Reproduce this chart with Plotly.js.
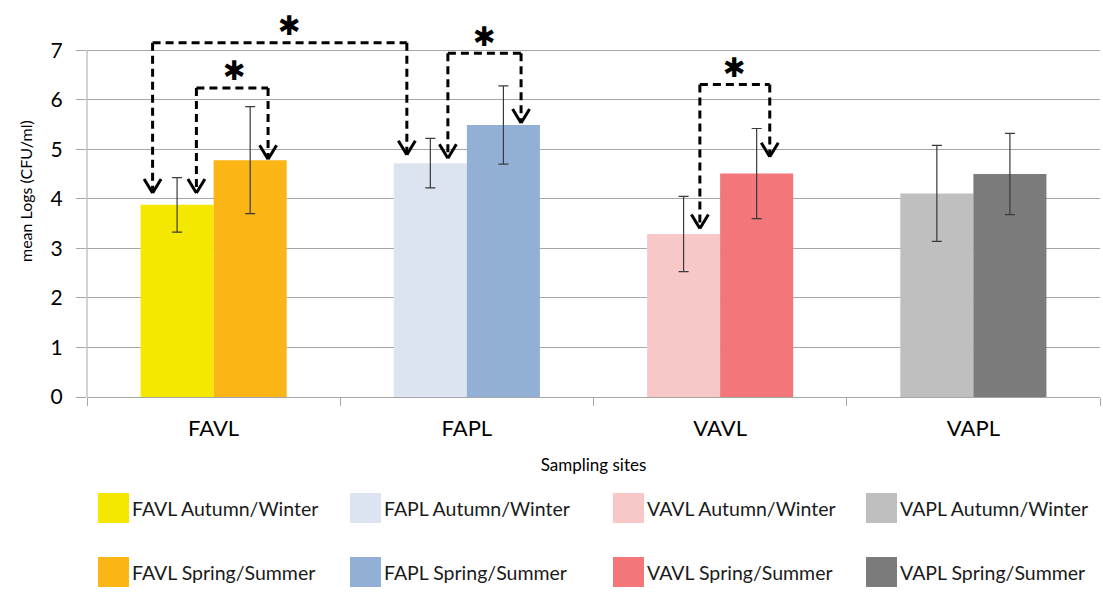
<!DOCTYPE html>
<html>
<head>
<meta charset="utf-8">
<script src="https://cdn.plot.ly/plotly-3.0.1.min.js"></script>
<style>html,body{margin:0;padding:0;background:#fff;}#chart{width:1103px;height:592px;}</style>
</head>
<body>
<div id="chart"></div>
<script>
// ---- data ----
const sites = ['FAVL', 'FAPL', 'VAVL', 'VAPL'];
const seasons = ['Autumn/Winter', 'Spring/Summer'];
const awMeans = [3.88, 4.72, 3.29, 4.11];
const awErr   = [0.55, 0.50, 0.76, 0.97];
const ssMeans = [4.78, 5.49, 4.51, 4.50];
const ssErr   = [1.08, 0.79, 0.91, 0.82];
const awColors = ['#F5E800', '#DCE3F1', '#F8C8C9', '#BFBFBF'];
const ssColors = ['#FBB515', '#92B0D6', '#F2767A', '#7A7B7A'];
const yTicks = [0, 1, 2, 3, 4, 5, 6, 7];
const yTitle = 'mean Logs (CFU/ml)';
const xTitle = 'Sampling sites';

// significance brackets (x in category-index units, y in data units)
const brackets = [
  {x0: -0.241, x1: 0.763, top: 7.15, tip0: 4.12, tip1: 4.89, starDx: 0.04},
  {x0: -0.068, x1: 0.215, top: 6.24, tip0: 4.12, tip1: 4.80, starDx: 0.008},
  {x0: 0.925,  x1: 1.214, top: 6.94, tip0: 4.82, tip1: 5.53, starDx: 0},
  {x0: 1.920,  x1: 2.196, top: 6.31, tip0: 3.40, tip1: 4.85, starDx: 0}
];

const FONT = 'Lato, "Open Sans", sans-serif';
const traces = [];
const seriesMeans = [awMeans, ssMeans];
const seriesErr = [awErr, ssErr];
const seriesColors = [awColors, ssColors];
for (let s = 0; s < 2; s++) {
  for (let i = 0; i < sites.length; i++) {
    traces.push({
      type: 'bar',
      name: sites[i] + ' ' + seasons[s],
      x: [sites[i]],
      y: [seriesMeans[s][i]],
      offsetgroup: 's' + s,
      marker: {color: seriesColors[s][i], line: {width: 0}},
      error_y: {type: 'data', array: [seriesErr[s][i]], visible: true, color: '#3a3a3a', thickness: 1.2, width: 5},
      showlegend: false,
      hoverinfo: 'x+y'
    });
  }
}

// plot geometry (pixels) used for paper conversions
const L = 87, R = 1100, T = 23, B = 397;
const W = R - L, H = B - T;
const yMax = 7.55;
const pxPerUnitY = H / yMax;
const pxPerCat = W / sites.length;

const shapes = [];
const annotations = [];
const dash = '8px,5px';
const ahX = 8.5 / pxPerCat, ahY = 14 / pxPerUnitY;
brackets.forEach(b => {
  const ln = {color: '#000', width: 3, dash: dash};
  shapes.push({type: 'line', xref: 'x', yref: 'y', x0: b.x0, x1: b.x1, y0: b.top, y1: b.top, line: ln});
  shapes.push({type: 'line', xref: 'x', yref: 'y', x0: b.x0, x1: b.x0, y0: b.top, y1: b.tip0 + 0.05, line: ln});
  shapes.push({type: 'line', xref: 'x', yref: 'y', x0: b.x1, x1: b.x1, y0: b.top, y1: b.tip1 + 0.05, line: ln});
  [[b.x0, b.tip0], [b.x1, b.tip1]].forEach(([x, y]) => {
    const sl = {color: '#000', width: 3};
    shapes.push({type: 'line', xref: 'x', yref: 'y', x0: x - ahX, y0: y + ahY, x1: x, y1: y, line: sl});
    shapes.push({type: 'line', xref: 'x', yref: 'y', x0: x + ahX, y0: y + ahY, x1: x, y1: y, line: sl});
  });
  annotations.push({
    xref: 'x', yref: 'y', x: (b.x0 + b.x1) / 2 + b.starDx, y: b.top, text: '✱', showarrow: false,
    yanchor: 'middle', yshift: 17, font: {family: '"DejaVu Sans", sans-serif', size: 27, color: '#000'}
  });
});

// left axis line (from 0 to 7)
shapes.push({type: 'line', xref: 'paper', yref: 'y', x0: 0, x1: 0, y0: 0, y1: yTicks[yTicks.length - 1],
  line: {color: '#a6a6a6', width: 1}});

// y-axis title (placed as in the original, centred on the 0-7 span offset upward)
annotations.push({xref: 'paper', yref: 'paper', x: (25 - L) / W, y: (B - 191) / H, textangle: -90,
  xanchor: 'center', yanchor: 'middle', showarrow: false, text: yTitle,
  font: {family: FONT, size: 16, color: '#000'}});

// custom legend: columns by site, rows by season
const colX = [98, 350, 613, 866];
const rowY = [493, 557];
const sw = 31, sh = 30;
for (let s = 0; s < 2; s++) {
  for (let i = 0; i < sites.length; i++) {
    const px0 = colX[i], py0 = rowY[s];
    shapes.push({type: 'rect', xref: 'paper', yref: 'paper',
      x0: (px0 - L) / W, x1: (px0 + sw - L) / W,
      y0: (B - py0 - sh) / H, y1: (B - py0) / H,
      fillcolor: seriesColors[s][i], line: {width: 0}});
    annotations.push({xref: 'paper', yref: 'paper', x: (px0 + sw + 1 - L) / W, y: (B - py0 - sh / 2) / H,
      xanchor: 'left', yanchor: 'middle', showarrow: false, text: sites[i] + ' ' + seasons[s],
      font: {family: FONT, size: 19.5, color: '#1a1a1a'}});
  }
}

const layout = {
  width: 1103, height: 592,
  margin: {l: L, r: 1103 - R, t: T, b: 592 - B},
  paper_bgcolor: '#fff', plot_bgcolor: '#fff',
  barmode: 'group', bargap: 0.423, bargroupgap: 0,
  showlegend: false,
  xaxis: {
    type: 'category', categoryorder: 'array', categoryarray: sites,
    range: [-0.5, sites.length - 0.5],
    showline: true, linecolor: '#a6a6a6', linewidth: 1,
    ticks: 'outside', tickson: 'boundaries', ticklen: 8, tickcolor: '#a6a6a6',
    ticklabelstandoff: 12,
    tickfont: {family: FONT, size: 22, color: '#000'},
    showgrid: false, zeroline: false,
    title: {text: xTitle, font: {family: FONT, size: 17, color: '#000'}, standoff: 18}
  },
  yaxis: {
    range: [0, yMax], tickvals: yTicks, ticktext: yTicks.map(String),
    showline: false, ticks: 'outside', ticklen: 10, tickcolor: '#a6a6a6',
    ticklabelstandoff: 9,
    showgrid: true, gridcolor: '#a6a6a6', gridwidth: 1, zeroline: false,
    tickfont: {family: FONT, size: 21, color: '#000'}
  },
  shapes: shapes,
  annotations: annotations
};

Plotly.newPlot('chart', traces, layout, {displayModeBar: false, staticPlot: true});
</script>
</body>
</html>
